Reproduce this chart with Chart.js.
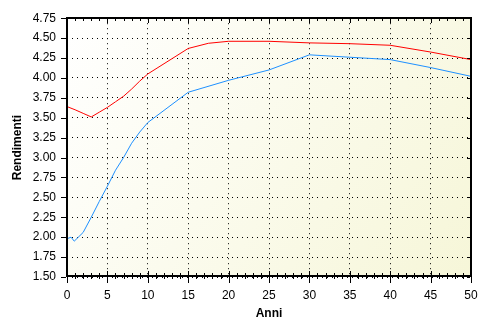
<!DOCTYPE html>
<html>
<head>
<meta charset="utf-8">
<script src="https://cdn.jsdelivr.net/npm/chart.js@4"></script>
<style>
  html, body { margin: 0; padding: 0; background: #fff; }
</style>
</head>
<body>
<canvas id="myChart" width="492" height="330"></canvas>
<script>
// serie rossa
const anniRosso = [0, 1, 2, 3, 4, 5, 6, 7, 8, 9, 10, 15, 17.5, 20, 25, 30, 35, 40, 45, 50];
const rendRosso = [3.64, 3.60, 3.555, 3.51, 3.57, 3.63, 3.70, 3.77, 3.86, 3.96, 4.05, 4.37, 4.435, 4.46, 4.46, 4.44, 4.43, 4.41, 4.325, 4.23];

// serie blu
const anniBlu = [0, 0.5, 0.9, 2, 3, 4, 5, 6, 7, 8, 9, 10, 15, 20, 25, 30, 35, 40, 45, 50];
const rendBlu = [1.98, 2.00, 1.95, 2.06, 2.25, 2.45, 2.64, 2.84, 3.00, 3.18, 3.32, 3.44, 3.82, 3.97, 4.10, 4.29, 4.26, 4.23, 4.13, 4.02];

// assi
const xMin = 0, xMax = 50, xStep = 5, xMinorStep = 1;
const yMin = 1.5, yMax = 4.75, yStep = 0.25;

const font = "'Liberation Sans', Arial, sans-serif";

// sfondo sfumato e cornice con tacche
const framePlugin = {
  id: "frame",
  beforeDraw(chart) {
    const { ctx, chartArea: a } = chart;
    const g = ctx.createLinearGradient(a.left, a.top, a.right, a.bottom);
    g.addColorStop(0, "#ffffff");
    g.addColorStop(1, "#f6f6d8");
    ctx.save();
    ctx.fillStyle = g;
    ctx.fillRect(a.left, a.top, a.right - a.left, a.bottom - a.top);
    ctx.restore();
  },
  afterDraw(chart) {
    const { ctx, chartArea: a, scales } = chart;
    const sx = scales.x, sy = scales.y;
    const L = Math.round(a.left), R = Math.round(a.right);
    const T = Math.round(a.top), B = Math.round(a.bottom);
    ctx.save();
    ctx.fillStyle = "#000";
    // cornice
    ctx.fillRect(L - 1, T - 1, 2, B - T + 1);
    ctx.fillRect(L - 1, B - 2, R - L + 1, 2);
    ctx.fillRect(L - 1, T - 1, R - L + 1, 2);
    ctx.fillRect(R - 1, T - 1, 2, B - T + 1);
    // tacche asse x
    for (let v = xMin; v <= xMax; v += xMinorStep) {
      const px = Math.round(sx.getPixelForValue(v));
      if (v % xStep === 0) {
        ctx.fillRect(px, B - 6, 1, 12);
        ctx.fillRect(px, T, 1, 5);
      } else {
        ctx.fillRect(px, B - 4, 1, 6);
        ctx.fillRect(px, T, 1, 3);
      }
    }
    // tacche asse y
    for (let v = yMin; v <= yMax + 1e-9; v += yStep) {
      const py = Math.round(sy.getPixelForValue(v));
      ctx.fillRect(L - 6, py, 5, 1);
      ctx.fillRect(R - 4, py, 3, 1);
    }
    ctx.restore();
  }
};

const data = {
  datasets: [
    {
      label: "rosso",
      data: anniRosso.map((x, i) => ({ x: x, y: rendRosso[i] })),
      borderColor: "#ff0000",
      borderWidth: 1,
      pointRadius: 0,
      tension: 0,
      fill: false
    },
    {
      label: "blu",
      data: anniBlu.map((x, i) => ({ x: x, y: rendBlu[i] })),
      borderColor: "#1e90ff",
      borderWidth: 1,
      pointRadius: 0,
      tension: 0,
      fill: false
    }
  ]
};

const config = {
  type: "line",
  data: data,
  plugins: [framePlugin],
  options: {
    responsive: false,
    animation: false,
    devicePixelRatio: 1,
    layout: { padding: { top: 11, right: 21, left: 0, bottom: 0 } },
    plugins: {
      legend: { display: false },
      tooltip: { enabled: false }
    },
    scales: {
      x: {
        type: "linear",
        min: xMin,
        max: xMax,
        afterFit: (s) => { s.height = 53; },
        ticks: {
          stepSize: xStep,
          color: "#000",
          font: { family: font, size: 12 },
          padding: 11,
          maxRotation: 0
        },
        grid: { color: "#000", lineWidth: 1, drawTicks: false },
        border: { display: false, dash: [1, 4] },
        title: {
          display: true,
          text: "Anni",
          color: "#000",
          font: { family: font, size: 12, weight: "bold" },
          padding: { top: 4, bottom: 9 }
        }
      },
      y: {
        type: "linear",
        min: yMin,
        max: yMax,
        afterFit: (s) => { s.width = 67; },
        ticks: {
          stepSize: yStep,
          color: "#000",
          font: { family: font, size: 12 },
          padding: 11,
          callback: (v) => Number(v).toFixed(2)
        },
        grid: { color: "#000", lineWidth: 1, drawTicks: false },
        border: { display: false, dash: [1, 4] },
        title: {
          display: true,
          text: "Rendimenti",
          color: "#000",
          font: { family: font, size: 12, weight: "bold" },
          padding: { top: 10, bottom: 4 }
        }
      }
    }
  }
};

const myChart = new Chart(document.getElementById("myChart"), config);
</script>
</body>
</html>
